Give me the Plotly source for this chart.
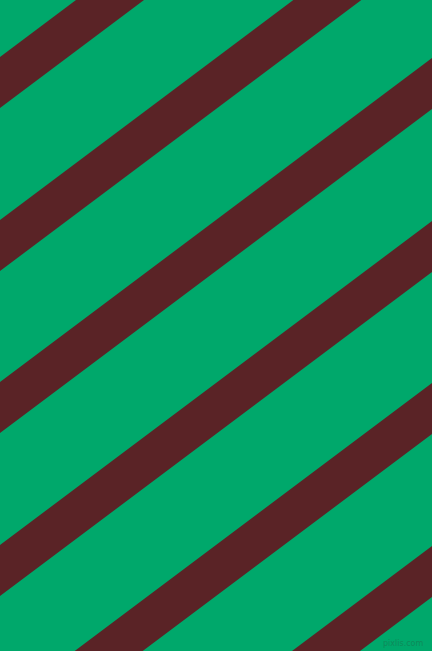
import plotly.graph_objects as go

# stripe pattern: y where each stripe's upper edge meets the left side (px)
stripe_starts = [57, 220, 382, 545, 707, 870]
stripe_height = 51      # vertical thickness of a stripe
slope = 0.75            # rise per px of run (lower-left to upper-right)

bg_color = "#00a86b"
stripe_color = "#5a2326"

W, H = 432, 651

fig = go.Figure()
x0, x1 = -20, W + 20
for b in stripe_starts:
    xs = [x0, x1, x1, x0, x0]
    ys = [b - slope * x0, b - slope * x1,
          b + stripe_height - slope * x1, b + stripe_height - slope * x0,
          b - slope * x0]
    fig.add_trace(go.Scatter(x=xs, y=ys, mode="lines", fill="toself",
                             fillcolor=stripe_color, line=dict(width=0),
                             hoverinfo="skip", showlegend=False))

fig.add_annotation(x=403, y=643, text="pixlis.com", showarrow=False,
                   font=dict(family="DejaVu Sans", size=8, color="#0e8a5a"),
                   xanchor="center", yanchor="middle")

fig.update_xaxes(range=[0, W], visible=False, fixedrange=True)
fig.update_yaxes(range=[H, 0], visible=False, fixedrange=True)
fig.update_layout(width=W, height=H, margin=dict(l=0, r=0, t=0, b=0),
                  plot_bgcolor=bg_color, paper_bgcolor=bg_color)

# drop the page's default body margin so the chart sits at the corner
fig.write_html("out.html", config={"displayModeBar": False},
               post_script="document.body.style.margin='0';")
